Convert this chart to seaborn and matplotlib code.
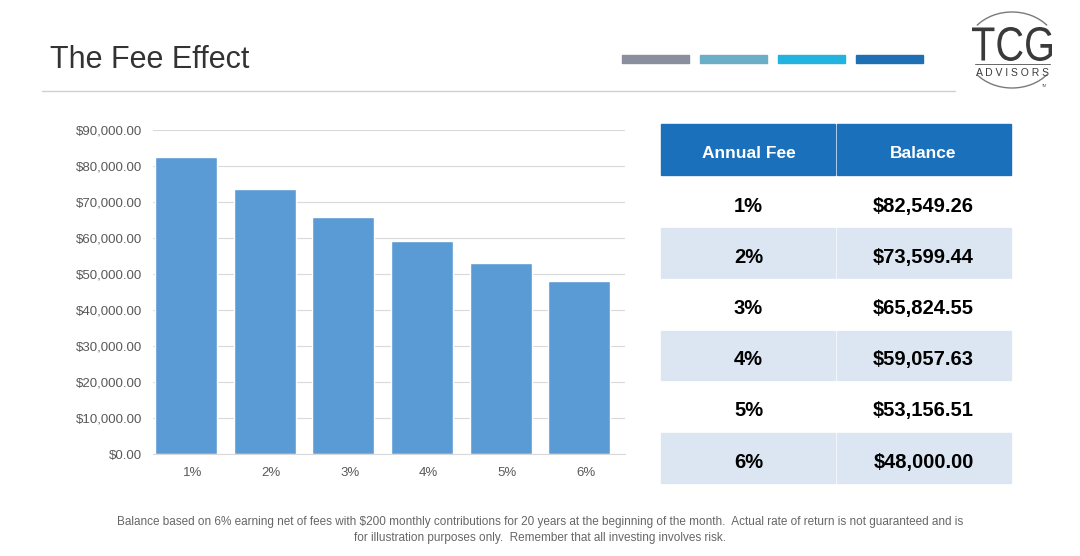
import matplotlib
matplotlib.use("Agg")
from matplotlib import pyplot as plt
from matplotlib.patches import Rectangle, Arc, PathPatch
from matplotlib.textpath import TextPath
from matplotlib.font_manager import FontProperties
from matplotlib.transforms import Affine2D
import seaborn as sns
import numpy as np
import pandas as pd

fees = ["1%", "2%", "3%", "4%", "5%", "6%"]
balances = [82549.26, 73599.44, 65824.55, 59057.63, 53156.51, 48000.00]
table_header = ["Annual Fee", "Balance"]
footnote = ("Balance based on 6% earning net of fees with $200 monthly contributions for 20 years "
            "at the beginning of the month.  Actual rate of return is not guaranteed and is\n"
            "for illustration purposes only.  Remember that all investing involves risk.")
strip_colors = ["#8a8f9e", "#6aaec8", "#22b3e0", "#1f6fb5"]

sns.set_style("white")
plt.rcParams['font.family'] = ['Liberation Sans', 'DejaVu Sans']

W, H = 1080, 556
fig = plt.figure(figsize=(W / 100, H / 100), dpi=100)


def fx(px):
    return px / W


def fy(py):
    return 1 - py / H


# title and header decoration
fig.text(fx(50), fy(60), "The Fee Effect", fontsize=22, color="#333333", va="center", ha="left")
fig.add_artist(plt.Line2D([fx(42), fx(955)], [fy(91), fy(91)], color="#cfcfcf", lw=1))
for i, c in enumerate(strip_colors):
    x0 = 622 + i * 78
    fig.add_artist(Rectangle((fx(x0), fy(63)), fx(67), 8 / H, color=c, transform=fig.transFigure))

# logo (pixel coordinates)
lax = fig.add_axes([fx(955), fy(100), fx(115), 95 / H])
lax.set_xlim(955, 1070)
lax.set_ylim(100, 5)
lax.axis("off")
tp = TextPath((0, 0), "TCG", size=1, prop=FontProperties(family="Liberation Sans"))
bb = tp.get_extents()
sx, sy = 80 / bb.width, 34 / bb.height
lax.add_patch(PathPatch(tp, facecolor="#3a3a3a", edgecolor="none",
                        transform=Affine2D().scale(sx, -sy).translate(972 - bb.x0 * sx, 61 + bb.y0 * sy)
                        + lax.transData))
lax.plot([975, 1050], [64, 64], color="#666666", lw=0.7)
lax.text(1013, 73, "A D V I S O R S", fontsize=7.5, color="#3a3a3a", ha="center", va="center")
lax.text(1044, 86, "TM", fontsize=2.5, color="#555555", ha="center", va="center")
lax.add_patch(Arc((1012, 50), 92, 76, theta1=35, theta2=145, color="#7a7a7a", lw=1))
lax.add_patch(Arc((1012, 50), 92, 76, theta1=215, theta2=325, color="#7a7a7a", lw=1))

# bar chart
ax = fig.add_axes([fx(153), fy(454), fx(625 - 153), (454 - 130) / H])
df = pd.DataFrame({"fee": fees, "balance": balances})
sns.barplot(data=df, x="fee", y="balance", color="#5b9bd5", saturation=1, width=0.79, ax=ax)
offset = 0.08
ax.set_xlim(-0.5 + offset, len(fees) - 0.5 + offset)
ax.set_xticks(np.arange(len(fees)) + offset, fees)
ax.set_ylim(0, 90000)
ax.set_yticks(range(0, 90001, 10000))
ax.set_yticklabels([f"${v:,.2f}" for v in range(0, 90001, 10000)])
ax.set_xlabel("")
ax.set_ylabel("")
ax.yaxis.grid(True, color="#d9d9d9", lw=0.8)
ax.set_axisbelow(True)
for s in ["top", "right", "left"]:
    ax.spines[s].set_visible(False)
ax.spines["bottom"].set_color("#d9d9d9")
ax.tick_params(axis="both", length=0, labelsize=9.5, labelcolor="#595959")
ax.tick_params(axis="y", pad=8)
ax.tick_params(axis="x", pad=9)

# table
tx0, tx1, tmid = 661, 1011, 836
ty0, hdr_h, row0, row_h = 124, 51, 177, 51.2
hdr_color = "#1a70ba"
for j, (a, b) in enumerate([(tx0, tmid), (tmid, tx1)]):
    fig.add_artist(Rectangle((fx(a + (1 if j else 0)), fy(ty0 + hdr_h)), fx(b - a - 1), hdr_h / H,
                             color=hdr_color, transform=fig.transFigure))
    fig.text(fx((a + b) / 2), fy(ty0 + hdr_h / 2 + 4), table_header[j], color="white",
             fontsize=12.5, fontweight="bold", ha="center", va="center")
for i, (f, b) in enumerate(zip(fees, balances)):
    top = row0 + i * row_h
    bg = "#dce6f2" if i % 2 == 1 else "white"
    for j, (a, c) in enumerate([(tx0, tmid), (tmid, tx1)]):
        fig.add_artist(Rectangle((fx(a + (1 if j else 0)), fy(top + row_h - 1.5)), fx(c - a - 1),
                                 (row_h - 1.5) / H, color=bg, transform=fig.transFigure))
    cy = top + row_h / 2 + 3.5
    fig.text(fx((tx0 + tmid) / 2), fy(cy), f, fontsize=14.5, fontweight="bold",
             ha="center", va="center", color="black")
    fig.text(fx((tmid + tx1) / 2), fy(cy), f"${b:,.2f}", fontsize=14.5,
             fontweight="bold", ha="center", va="center", color="black")

fig.text(0.5, fy(530), footnote, fontsize=8.5, color="#666666", ha="center", va="center",
         linespacing=1.35)

fig.savefig("out.png", dpi=100)
